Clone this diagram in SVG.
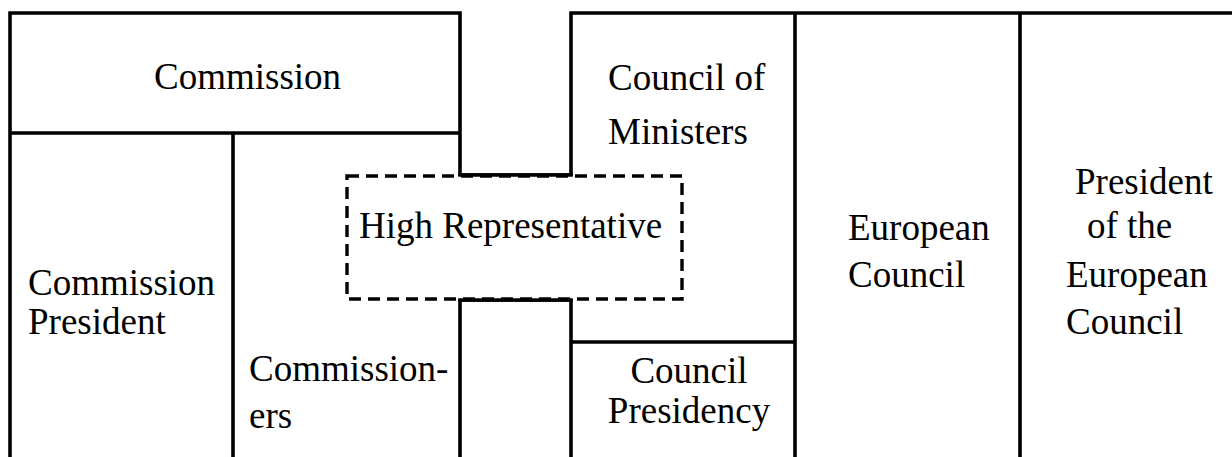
<svg xmlns="http://www.w3.org/2000/svg" width="1232" height="457" viewBox="0 0 1232 457">
<style>
.t{font-family:"Liberation Serif","Times New Roman",serif;font-size:37px;fill:#000}
.m{text-anchor:middle}
.b{fill:none;stroke:#000;stroke-width:3.6;stroke-linecap:square}
.d{fill:#fff;stroke:#000;stroke-width:3.4;stroke-dasharray:12 7}
</style>
<rect width="1232" height="457" fill="#fff"/>
<g id="borders">
<path class="b" d="M10 457V13H460V175M10 133H460M233 133V457M460 300V457M571 457V300M571 175V13H1232M460 175H571M460 300H571M795 13V457M1020 13V457M571 342H795"/>
</g>
<g id="high-representative">
<rect class="d" x="347" y="176" width="335" height="123"/>
<path class="b" d="M460 175H571M460 300H571"/>
<text class="t" x="359" y="238">High Representative</text>
</g>
<g id="commission"><text class="t" x="154" y="89">Commission</text></g>
<g id="commission-president"><text class="t" x="28" y="295">Commission</text><text class="t" x="28" y="334">President</text></g>
<g id="commissioners"><text class="t" x="249" y="381">Commission-</text><text class="t" x="249" y="428">ers</text></g>
<g id="council-of-ministers"><text class="t" x="608" y="90">Council of</text><text class="t" x="608" y="144">Ministers</text></g>
<g id="council-presidency"><text class="t m" x="689" y="383">Council</text><text class="t m" x="689" y="423">Presidency</text></g>
<g id="european-council"><text class="t" x="848" y="240">European</text><text class="t" x="848" y="287">Council</text></g>
<g id="president-european-council"><text class="t" x="1075" y="194">President</text><text class="t" x="1087" y="238">of the</text><text class="t" x="1066" y="287">European</text><text class="t" x="1066" y="334">Council</text></g>
</svg>
